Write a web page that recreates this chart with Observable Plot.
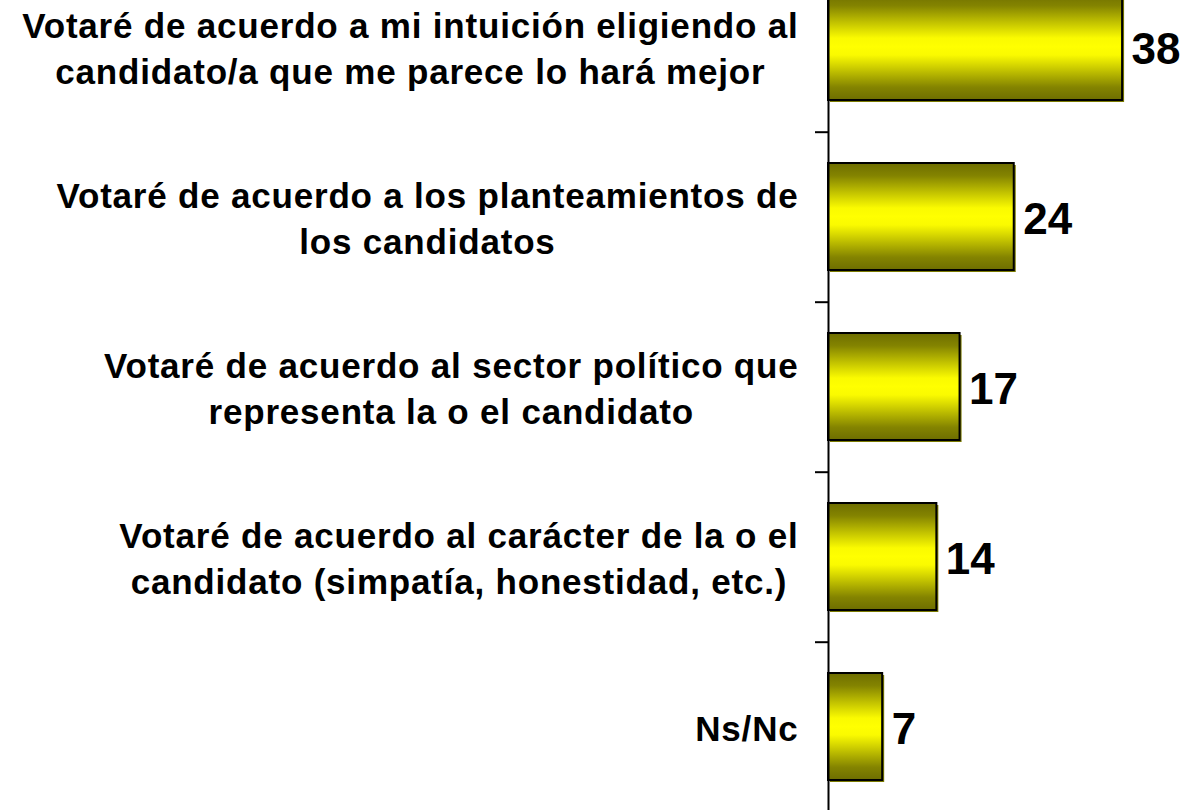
<!DOCTYPE html>
<html><head><meta charset="utf-8">
<script src="https://cdn.jsdelivr.net/npm/d3@7"></script>
<script src="https://cdn.jsdelivr.net/npm/@observablehq/plot@0.6"></script>
<style>
html,body{margin:0;padding:0;background:#fff;overflow:hidden;}
#chart{width:1184px;height:810px;overflow:hidden;}
#chart svg{display:block;margin-top:-40px;}
</style></head><body><div id="chart"></div>
<script>
const categories = [
  "Votaré de acuerdo a mi intuición eligiendo al\ncandidato/a que me parece lo hará mejor",
  "Votaré de acuerdo a los planteamientos de\nlos candidatos",
  "Votaré de acuerdo al sector político que\nrepresenta la o el candidato",
  "Votaré de acuerdo al carácter de la o el\ncandidato (simpatía, honestidad, etc.)",
  "Ns/Nc"
];
const values = [38, 24, 17, 14, 7];
const gradientStops = [
  [0, "#6e6e00"], [0.12, "#848400"], [0.3, "#cccc00"], [0.42, "#fafa00"],
  [0.5, "#ffff00"], [0.58, "#fafa00"], [0.7, "#cccc00"], [0.88, "#848400"], [1, "#6e6e00"]
];

const data = categories.map((c, i) => ({category: c, value: values[i]}));
const W = 1184, H = 852;
const step = H / categories.length;

const defs = () => {
  const d = d3.create("svg:defs");
  const g = d.append("linearGradient").attr("id", "barGrad")
    .attr("x1", 0).attr("y1", 0).attr("x2", 0).attr("y2", 1);
  for (const [o, c] of gradientStops) g.append("stop").attr("offset", o).attr("stop-color", c);
  return d.node();
};

const chart = Plot.plot({
  width: W, height: H,
  marginLeft: 828, marginRight: 0, marginTop: 0, marginBottom: 0,
  x: {domain: [0, 46], axis: null},
  y: {domain: categories, axis: null, paddingInner: 0.372, paddingOuter: 0.186},
  style: {fontFamily: "'Liberation Sans', Arial, sans-serif", background: "white", color: "black"},
  marks: [
    defs,
    Plot.barX(data, {x: "value", y: "category", fill: "#7a7a00", dx: 2, dy: 2}),
    Plot.barX(data, {x: "value", y: "category", fill: "url(#barGrad)", stroke: "black", strokeWidth: 2}),
    Plot.ruleX([0], {stroke: "black", strokeWidth: 2}),
    Plot.ruleY(categories.slice(0, -1), {y: d => d, x1: 0, x2: 0, insetLeft: -13, dy: step / 2, stroke: "black", strokeWidth: 2}),
    Plot.text(data, {x: 0, y: "category", text: "category", dx: -30, dy: -1, textAnchor: "end",
      fontSize: 35, fontWeight: "bold", lineHeight: 1.32, fill: "black"}),
    Plot.text(data, {x: "value", y: "category", text: d => String(d.value), dx: 9, dy: 3, textAnchor: "start",
      fontSize: 44, fontWeight: "bold", fill: "black"})
  ]
});
document.getElementById("chart").appendChild(chart);

// center-align the lines of each category label within its right-aligned block
const textGroups = chart.querySelectorAll('g[aria-label="text"]');
const catGroup = textGroups[0];
catGroup.style.letterSpacing = "0.8px";
catGroup.querySelectorAll("text").forEach(t => {
  const w = t.getBBox().width;
  t.setAttribute("text-anchor", "middle");
  const spans = t.querySelectorAll("tspan");
  if (spans.length) {
    spans.forEach(s => s.setAttribute("x", String((+s.getAttribute("x") || 0) - w / 2)));
  } else {
    t.setAttribute("dx", String((+t.getAttribute("dx") || 0) - w / 2));
  }
});
</script>
</body></html>
